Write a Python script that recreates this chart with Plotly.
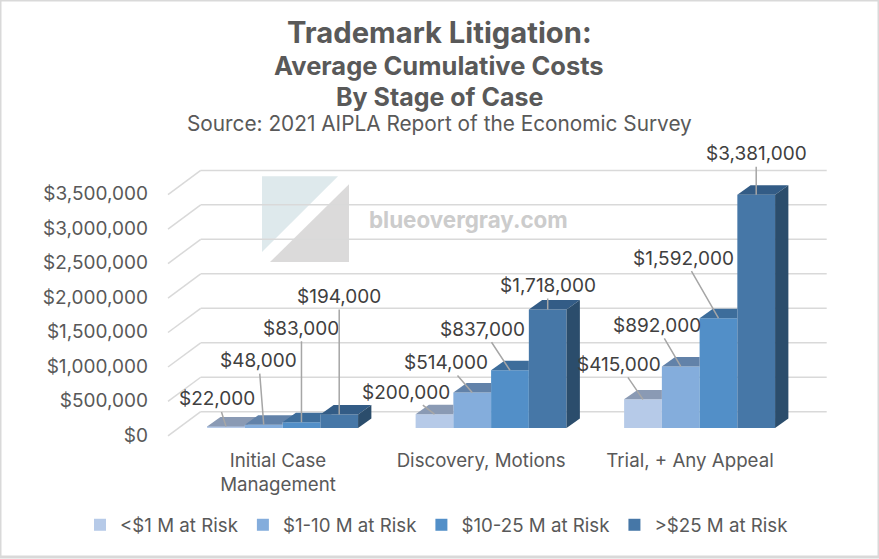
import plotly.graph_objects as go

W = 879
H = 559
FONT = "Inter"

# values
groups = ["Initial Case<br>Management", "Discovery, Motions", "Trial, + Any Appeal"]
series_names = ["<$1 M at Risk", "$1-10 M at Risk", "$10-25 M at Risk", ">$25 M at Risk"]
under_1m = [22000, 200000, 415000]
m1_to_10 = [48000, 514000, 892000]
m10_to_25 = [83000, 837000, 1592000]
over_25m = [194000, 1718000, 3381000]
all_series = [under_1m, m1_to_10, m10_to_25, over_25m]
y_ticks = [0, 500000, 1000000, 1500000, 2000000, 2500000, 3000000, 3500000]

front_colors = ["#B6CAE8", "#84ADDC", "#528FC8", "#4677A7"]
top_colors = ["#8A9AB4", "#6282A9", "#3D6D9B", "#335C86"]
side_color = "#2B4D6C"
grid_color = "#D9D9D9"

# pixel scale of the axes, the fake 3d depth is worked out from these
PX_PER_GROUP = 208.5
PX_PER_DOLLAR = 69.2 / 1e6
ZERO_X_PX = 282.6
ZERO_Y_PX = 428
LEFT, RIGHT, TOP, BOTTOM = 160, 830, 140, 445
NUDGE_Y = 1.5  # plot area came out a bit high
BAR_GAP = 0.276
BAR_W = (1 - BAR_GAP) / 4
DEPTH_X = 13.3 / PX_PER_GROUP
DEPTH_Y = 9.5 / PX_PER_DOLLAR


def px_x(px):
    return (px - ZERO_X_PX) / PX_PER_GROUP


def px_y(px):
    return (ZERO_Y_PX - px) / PX_PER_DOLLAR


fig = go.Figure()

# back wall + side wall gridlines
for v in y_ticks:
    y_front = v + px_y(436)
    y_back = v + px_y(411.7)
    fig.add_shape(type="line", layer="below", xref="x", yref="y", x0=px_x(168), y0=y_front,
                  x1=px_x(200.7), y1=y_back, line=dict(color=grid_color, width=1.5))
    fig.add_shape(type="line", layer="below", xref="x", yref="y", x0=px_x(200.7), y0=y_back,
                  x1=px_x(826.7), y1=y_back, line=dict(color=grid_color, width=1.5))

# front faces are normal grouped bars
for s, name in enumerate(series_names):
    fig.add_trace(go.Bar(x=list(range(len(groups))), y=all_series[s], name=name,
                         marker=dict(color=front_colors[s], line=dict(width=0)),
                         hoverinfo="skip"))

# top and side faces. Scatter always paints over bars, so a top face has to stop where
# the next (taller) bar starts
for g in range(len(groups)):
    for s in range(len(all_series)):
        h = all_series[s][g]
        x0 = g + (s - 2) * BAR_W
        x1 = x0 + BAR_W
        xs = [x0, x1]
        ys = [h, h]
        if s < len(all_series) - 1:
            h_next = all_series[s + 1][g]
            if h_next >= h + DEPTH_Y:
                xs += [x1, x0 + DEPTH_X]
                ys += [h + DEPTH_Y, h + DEPTH_Y]
            else:
                cut = x1 + DEPTH_X * (h_next - h) / DEPTH_Y
                xs += [x1, cut, x1 + DEPTH_X, x0 + DEPTH_X]
                ys += [h_next, h_next, h + DEPTH_Y, h + DEPTH_Y]
        else:
            xs += [x1 + DEPTH_X, x0 + DEPTH_X]
            ys += [h + DEPTH_Y, h + DEPTH_Y]
        fig.add_trace(go.Scatter(x=xs, y=ys, mode="lines", fill="toself", fillcolor=top_colors[s],
                                 line=dict(width=0), showlegend=False, hoverinfo="skip"))
    # only the last bar of a group shows its side, the values go up left to right
    h = all_series[-1][g]
    x1 = g + 2 * BAR_W
    fig.add_trace(go.Scatter(x=[x1, x1, x1 + DEPTH_X, x1 + DEPTH_X], y=[0, h, h + DEPTH_Y, DEPTH_Y],
                             mode="lines", fill="toself", fillcolor=side_color,
                             line=dict(width=0), showlegend=False, hoverinfo="skip"))

# data labels with leader lines, offsets are in pixels from the top of the bar
label_dx = [[-8.5, -5, 0, 0], [-28.5, -26, -27, 0], [-24, -24, -34.5, 0]]
label_dy = [[-27.5, -64, -94, -118], [-22, -30, -41, -24], [-35, -41, -60, -41]]
for g in range(len(groups)):
    for s in range(len(all_series)):
        fig.add_annotation(x=g + (s - 1.5) * BAR_W, y=all_series[s][g], xref="x", yref="y",
                           text="${:,}".format(all_series[s][g]), showarrow=True, arrowhead=0,
                           arrowwidth=1.5, arrowcolor="#A6A6A6", standoff=0, startstandoff=0,
                           ax=label_dx[g][s], ay=label_dy[g][s], axref="pixel", ayref="pixel",
                           font=dict(family=FONT, size=19, color="#404040"))

# watermark
fig.add_shape(type="path", layer="below", xref="paper", yref="paper", line=dict(width=0),
              fillcolor="rgba(190,212,218,0.5)",
              path="M {} {} L {} {} L {} {} Z".format(262 / W, 1 - 177 / H, 338 / W, 1 - 177 / H, 262 / W, 1 - 253 / H))
fig.add_shape(type="path", layer="below", xref="paper", yref="paper", line=dict(width=0),
              fillcolor="rgba(183,181,181,0.5)",
              path="M {} {} L {} {} L {} {} Z".format(349 / W, 1 - 185 / H, 349 / W, 1 - 263 / H, 270 / W, 1 - 263 / H))
fig.add_annotation(x=468 / W, y=1 - 220 / H, xref="paper", yref="paper", showarrow=False,
                   xanchor="center", yanchor="middle",
                   text="<b>blueovergray.com</b>", font=dict(family=FONT, size=22.4, color="#CCCCCC"))

# outer border
fig.add_shape(type="rect", xref="paper", yref="paper", x0=0, y0=0, x1=1, y1=1,
              line=dict(color="#D9D9D9", width=3))

# title block
title_lines = [("<b>Trademark Litigation:</b>", 33, 29.2), ("<b>Average Cumulative Costs</b>", 66, 25.5),
               ("<b>By Stage of Case</b>", 97, 25), ("Source: 2021 AIPLA Report of the Economic Survey", 124, 20.8)]
for text, y_px, size in title_lines:
    fig.add_annotation(x=439 / W, y=1 - y_px / H, xref="paper", yref="paper", showarrow=False,
                       xanchor="center", yanchor="middle",
                       text=text, font=dict(family=FONT, size=size, color="#595959"))

fig.update_layout(
    width=W, height=H,
    margin=dict(l=0, r=0, t=0, b=0),
    paper_bgcolor="white", plot_bgcolor="rgba(0,0,0,0)",
    barmode="group", bargap=BAR_GAP,
    font=dict(family=FONT, color="#595959"),
    legend=dict(orientation="h", x=80 / W, y=1 - 527 / H, xanchor="left", yanchor="middle",
                font=dict(family=FONT, size=18.7, color="#595959")),
    xaxis=dict(domain=[LEFT / W, RIGHT / W], range=[px_x(LEFT), px_x(RIGHT)],
               tickmode="array", tickvals=[-0.022, 0.952, 1.954], ticktext=groups,
               showgrid=False, zeroline=False, showline=False, ticks="",
               tickfont=dict(family=FONT, size=18.7, color="#595959"), ticklabelstandoff=2),
    yaxis=dict(domain=[1 - (BOTTOM + NUDGE_Y) / H, 1 - (TOP + NUDGE_Y) / H], range=[px_y(BOTTOM), px_y(TOP)],
               tickmode="array", tickvals=y_ticks, ticktext=["${:,}".format(v) for v in y_ticks],
               showgrid=False, zeroline=False, showline=False, ticks="",
               tickfont=dict(family=FONT, size=19, color="#595959"),
               ticklabelstandoff=11, ticklabelshift=7),
)

# the page has a default body margin, the chart should sit flush in the window
fig.write_html("out.html", config=dict(displayModeBar=False),
               post_script="document.body.style.margin = '0';")
